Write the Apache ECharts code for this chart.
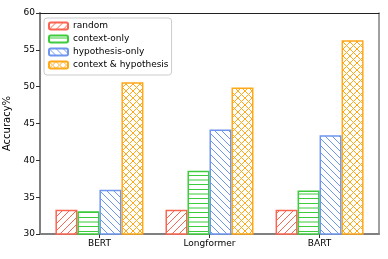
<!DOCTYPE html>
<html>
<head>
<meta charset="utf-8">
<script src="https://cdn.jsdelivr.net/npm/echarts@6/dist/echarts.min.js"></script>
<style>html,body{margin:0;padding:0;background:#fff}#c{width:388px;height:259px}</style>
</head>
<body>
<div id="c"></div>
<script>
const categories = ['BERT', 'Longformer', 'BART'];
const seriesNames = ['random', 'context-only', 'hypothesis-only', 'context & hypothesis'];
const randomVals = [33.3, 33.3, 33.3];
const contextOnlyVals = [33.1, 38.6, 35.9];
const hypothesisOnlyVals = [36.0, 44.2, 43.4];
const contextHypVals = [50.6, 49.9, 56.3];
const yTicks = [30, 35, 40, 45, 50, 55, 60];

function makePattern(kind, color) {
  const s = kind === 'h' ? 14 : 7;
  const c = document.createElement('canvas');
  c.width = s; c.height = s;
  const g = c.getContext('2d');
  g.fillStyle = '#fff'; g.fillRect(0, 0, s, s);
  g.strokeStyle = color; g.lineWidth = 1;
  g.beginPath();
  if (kind === 'h') {
    [2.5, 7.5, 12].forEach(y => { g.moveTo(0, y); g.lineTo(s, y); });
  }
  if (kind === '/' || kind === 'x') {
    for (let k = -1; k <= 1; k++) { g.moveTo(-1 + k * s, s + 1); g.lineTo(s + 1 + k * s, -1); }
  }
  if (kind === '\\' || kind === 'x') {
    for (let k = -1; k <= 1; k++) { g.moveTo(-1 + k * s, -1); g.lineTo(s + 1 + k * s, s + 1); }
  }
  g.stroke();
  return { image: c, repeat: 'repeat' };
}

const colors = ['#fa6450', '#3ccc3c', '#6e96ee', '#ffa818'];
const kinds = ['/', 'h', '\\', 'x'];
const allVals = [randomVals, contextOnlyVals, hypothesisOnlyVals, contextHypVals];

const series = seriesNames.map((n, i) => ({
  name: n,
  type: 'bar',
  barWidth: 22,
  barGap: '0%',
  data: allVals[i].map((v, j) => [j, v]),
  itemStyle: { color: makePattern(kinds[i], colors[i]), borderColor: colors[i], borderWidth: 1.5 },
  emphasis: { disabled: true }
}));

const chart = echarts.init(document.getElementById('c'), null, { renderer: 'canvas' });
chart.setOption({
  animation: false,
  textStyle: { fontFamily: 'DejaVu Sans' },
  grid: { left: 40, right: 9, top: 13, bottom: 25, containLabel: false, outerBoundsMode: 'none' },
  legend: {
    orient: 'vertical', left: 44, top: 18,
    itemWidth: 19, itemHeight: 7, itemGap: 3,
    padding: [3, 3, 5, 4],
    borderColor: '#cccccc', borderWidth: 1, borderRadius: 3,
    backgroundColor: 'rgba(255,255,255,0.8)',
    textStyle: { fontSize: 9, color: '#000', fontFamily: 'DejaVu Sans', lineHeight: 10 },
    data: seriesNames
  },
  xAxis: [{
    type: 'value', min: -0.54, max: 2.54,
    axisLine: { show: true, onZero: false, lineStyle: { color: '#808080', width: 2 } },
    axisTick: { show: true, customValues: [0, 1, 2], length: 4, lineStyle: { color: '#333', width: 1 } },
    axisLabel: { customValues: [0, 1, 2], formatter: v => categories[Math.round(v)], fontSize: 9, color: '#000', margin: 5 },
    splitLine: { show: false }
  }, {
    type: 'value', min: -0.54, max: 2.54, position: 'top',
    axisLine: { show: true, onZero: false, lineStyle: { color: '#222', width: 1 } },
    axisTick: { show: false }, axisLabel: { show: false }, splitLine: { show: false }
  }],
  yAxis: [{
    type: 'value', min: 30, max: 60, interval: 5,
    name: 'Accuracy%', nameLocation: 'middle', nameGap: 22, nameRotate: 90,
    nameTextStyle: { fontSize: 10, color: '#000' },
    axisLine: { show: true, onZero: false, lineStyle: { color: '#808080', width: 2 } },
    axisTick: { show: true, length: 4, lineStyle: { color: '#333', width: 1 } },
    axisLabel: { fontSize: 9, color: '#000', margin: 5, customValues: yTicks },
    splitLine: { show: false }
  }, {
    type: 'value', min: 30, max: 60, position: 'right',
    axisLine: { show: true, onZero: false, lineStyle: { color: '#808080', width: 1.5 } },
    axisTick: { show: false }, axisLabel: { show: false }, splitLine: { show: false }
  }],
  series: series
});
</script>
</body>
</html>
